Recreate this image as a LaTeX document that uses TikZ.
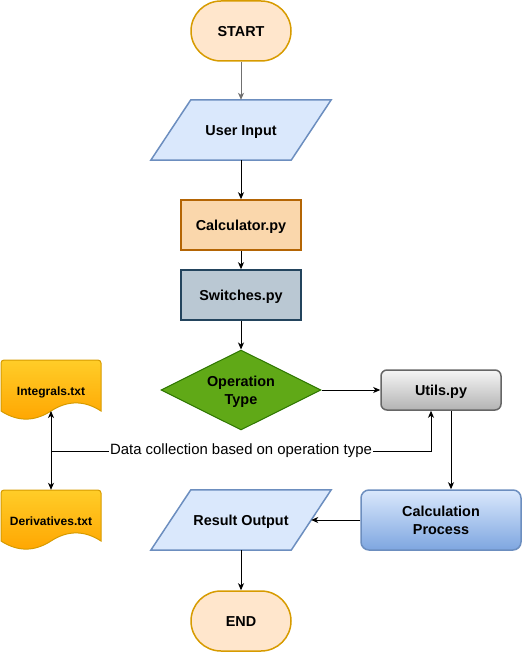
\documentclass[tikz,border=0pt]{standalone}
\usepackage{fontspec}
\setmainfont{Liberation Sans}
\usetikzlibrary{arrows.meta,shapes.geometric,backgrounds,calc}
\definecolor{termfill}{HTML}{FFE6CC}
\definecolor{termline}{HTML}{D79B00}
\definecolor{iofill}{HTML}{DAE8FC}
\definecolor{ioline}{HTML}{6C8EBF}
\definecolor{calcfill}{HTML}{FAD7AC}
\definecolor{calcline}{HTML}{B46504}
\definecolor{swfill}{HTML}{BAC8D3}
\definecolor{swline}{HTML}{23445D}
\definecolor{decfill}{HTML}{60A917}
\definecolor{decline}{HTML}{2D7600}
\definecolor{utiltop}{HTML}{F5F5F5}
\definecolor{utilbot}{HTML}{B3B3B3}
\definecolor{utilline}{HTML}{666666}
\definecolor{proctop}{HTML}{DAE8FC}
\definecolor{procbot}{HTML}{7EA6E0}
\definecolor{doctop}{HTML}{FFCD28}
\definecolor{docbot}{HTML}{FFA500}
\definecolor{docline}{HTML}{D79B00}
\definecolor{startarrow}{HTML}{707070}
\newcommand{\docpath}[2]{% top-left x, y
  (#1,#2+51) [rounded corners=3pt] -- (#1,#2) -- (#1+100,#2) [sharp corners] -- (#1+100,#2+51)
  .. controls (#1+83.33,#2+40.2) and (#1+66.67,#2+40.2) .. (#1+50,#2+51)
  .. controls (#1+33.33,#2+61.8) and (#1+16.67,#2+61.8) .. (#1,#2+51) -- cycle}
\newcommand{\twolines}[2]{\raisebox{-2pt}[\height][\depth]{\begin{tabular}{@{}c@{}}#1\\#2\end{tabular}}}
\begin{document}
\begin{tikzpicture}[x=1pt,y=-1pt,
  mainfont/.style={font=\fontsize{14.4}{18}\selectfont\bfseries},
  oneline/.style={text height=15pt, text depth=3.2pt},
  term/.style={mainfont, oneline, draw=termline, fill=termfill, line width=1.5pt, rounded corners=30pt,
    minimum width=100pt, minimum height=60pt, inner sep=0pt},
  iotext/.style={mainfont, oneline, minimum width=140pt, minimum height=60pt, inner sep=0pt},
  ioshape/.style={draw=ioline, fill=iofill, line width=1.5pt, line join=miter},
  calcbox/.style={mainfont, oneline, draw=calcline, fill=calcfill, line width=1.5pt,
    minimum width=120pt, minimum height=50pt, inner sep=0pt},
  swbox/.style={mainfont, oneline, draw=swline, fill=swfill, line width=1.5pt,
    minimum width=120pt, minimum height=50pt, inner sep=0pt},
  decbox/.style={mainfont, shape=diamond, aspect=2, draw=decline, fill=decfill, line width=1pt,
    minimum width=160pt, minimum height=80pt, inner sep=0pt},
  utilbox/.style={mainfont, oneline, draw=utilline, top color=utiltop, bottom color=utilbot, line width=1.5pt,
    rounded corners=6pt, minimum width=120pt, minimum height=40pt, inner sep=0pt},
  procbox/.style={mainfont, draw=ioline, top color=proctop, bottom color=procbot, line width=1.5pt,
    rounded corners=8pt, minimum width=160pt, minimum height=60pt, inner sep=0pt},
  doctext/.style={font=\fontsize{12}{14}\selectfont\bfseries, text height=13.5pt, text depth=2.8pt,
    minimum width=100pt, minimum height=60pt, inner sep=0pt},
  docshape/.style={draw=docline, top color=doctop, bottom color=docbot, line width=1pt},
  arr/.style={-{Stealth[length=7pt,width=6pt,inset=2pt]}, line width=1pt, draw=black},
  twoarr/.style={{Stealth[length=7pt,width=6pt,inset=2pt]}-{Stealth[length=7pt,width=6pt,inset=2pt]}, line width=1pt},
  lbl/.style={font=\fontsize{14.9}{17}\selectfont, fill=white, inner sep=1pt}
]
\useasboundingbox (0,0) rectangle (522,652);

% nodes
\node[term] (start) at (241,31) {START};
\node[iotext] (ui) at (241,130) {User Input};
\node[calcbox] (calc) at (241,225) {Calculator.py};
\node[swbox] (sw) at (241,295) {Switches.py};
\node[decbox] (dec) at (241,390) {\twolines{Operation}{Type}};
\node[utilbox] (utils) at (441,390) {Utils.py};
\node[procbox] (proc) at (441,520) {\twolines{Calculation}{Process}};
\node[iotext] (ro) at (241,520) {Result Output};
\node[term] (end) at (241,621) {END};
\node[doctext] (int) at (51,390) {Integrals.txt};
\node[doctext] (der) at (51,520) {Derivatives.txt};
\coordinate (intw) at (51,411);
\coordinate (junc) at (51,451);

\begin{scope}[on background layer]
  \path[ioshape] ([xshift=20pt]ui.north west) -- ([xshift=20pt]ui.north east)
     -- ([xshift=-20pt]ui.south east) -- ([xshift=-20pt]ui.south west) -- cycle;
  \path[ioshape] ([xshift=20pt]ro.north west) -- ([xshift=20pt]ro.north east)
     -- ([xshift=-20pt]ro.south east) -- ([xshift=-20pt]ro.south west) -- cycle;
  \shade[docshape] \docpath{1}{360};
  \shade[docshape] \docpath{1}{490};
\end{scope}

% connectors
\draw[arr, draw=startarrow] (start) -- (ui);
\draw[arr] (ui) -- (calc);
\draw[arr] (calc) -- (sw);
\draw[arr] (sw) -- (dec);
\draw[arr] (dec) -- (utils);
\draw[arr] ([xshift=10pt]utils.south) -- ([xshift=10pt]proc.north);
\draw[arr] (proc) -- (ro.east);
\draw[arr] (ro) -- (end);
\draw[twoarr] (intw) -- (der.north);
\draw[arr] (junc) -| node[lbl, pos=0.25] {Data collection based on operation type} ([xshift=-10pt]utils.south);
\end{tikzpicture}
\end{document}
